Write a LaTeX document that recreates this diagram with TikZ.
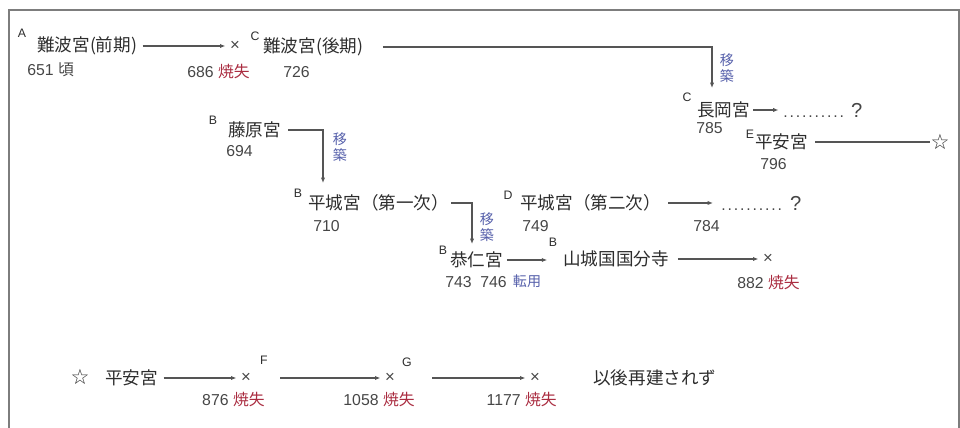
\documentclass[tikz,border=0pt]{standalone}
\usepackage{fontspec}
\setmainfont{Liberation Sans}
\newfontfamily\jp{Noto Sans CJK JP}
\newfontfamily\sym{DejaVu Sans}
\usetikzlibrary{arrows.meta}

\definecolor{txtgray}{RGB}{45,45,45}
\definecolor{numgray}{RGB}{70,70,70}
\definecolor{lostred}{RGB}{170,45,65}
\definecolor{moveblue}{RGB}{85,95,170}
\definecolor{linegray}{RGB}{85,85,85}
\definecolor{framegray}{RGB}{125,125,125}

% dotted run ending in a question mark
\newcommand{\dotsq}[1]{\hbox to #1{\leaders\hbox to 0.125cm{\hss.\hss}\hfill\kern1pt{\fontsize{11.5}{12}\selectfont ?}}}
\newcommand{\burnt}[1]{#1 \textcolor{lostred}{\jp 焼失}}

\tikzset{
  pal/.style={text=txtgray, font=\jp\fontsize{10}{11}\selectfont, inner sep=0pt, anchor=west},
  yr/.style={text=numgray, font=\fontsize{9}{10}\selectfont, inner sep=0pt, anchor=west},
  ltr/.style={text=txtgray, font=\fontsize{7}{8}\selectfont, inner sep=0pt},
  lost/.style={text=numgray, font=\fontsize{9}{10}\selectfont, inner sep=0pt, anchor=east},
  move/.style={text=moveblue, font=\jp\fontsize{8}{9.5}\selectfont, inner sep=0pt, align=center},
  cross/.style={text=numgray, font=\fontsize{9.5}{10}\selectfont, inner sep=0.5pt},
  star/.style={text=txtgray, font=\sym\fontsize{12}{13}\selectfont, inner sep=0pt},
  ln/.style={draw=linegray, line width=0.6pt},
  arr/.style={ln, -{Latex[length=3pt,width=2.4pt]}},
}

\begin{document}
\begin{tikzpicture}[x=0.02cm, y=-0.02cm]
\useasboundingbox (0,0) rectangle (960,428);
\draw[framegray, line width=1pt] (9,428) -- (9,10) -- (959,10) -- (959,428);

% Naniwa
\node[ltr] (lA) at (22,33) {A};
\node[pal] (naniwaF) at (37,46) {難波宮(前期)};
\node[yr]  (yNaniwaF) at (27,70) {651 {\jp 頃}};
\node[cross] (xNaniwa) at (235,46) {×};
\node[lost] (bNaniwa) at (250,72) {\burnt{686}};
\node[ltr] (lC1) at (255,36) {C};
\node[pal] (naniwaL) at (263,47) {難波宮(後期)};
\node[yr]  (yNaniwaL) at (283,72) {726};
\draw[arr, shorten >=2pt, shorten <=3pt] (naniwaF.east) -- (xNaniwa.west);

% Nagaoka / Heian
\coordinate (kNagaoka) at (712,88);
\draw[arr, shorten <=11pt] (naniwaL.east) -| (kNagaoka);
\node[move] (mvNagaoka) at (727,68) {移\\築};
\node[ltr] (lC2) at (687,97) {C};
\node[pal] (nagaoka) at (697,110) {長岡宮};
\node[yr]  (yNagaoka) at (696,128) {785};
\node[yr]  (qNagaoka) at (782,110) {\dotsq{1.6cm}};
\draw[arr, shorten <=1.5pt, shorten >=2pt] (nagaoka.east) -- (nagaoka.east -| qNagaoka.west);
\node[ltr] (lE) at (750,134) {E};
\node[pal] (heian) at (755,142) {平安宮};
\node[yr]  (yHeian) at (760,164) {796};
\node[star] (stHeian) at (940,142) {☆};
\draw[ln, shorten <=4pt] (heian.east) -- (stHeian.west);

% Fujiwara / Heijo
\node[ltr] (lB1) at (213,120) {B};
\node[pal] (fuji) at (228,130) {藤原宮};
\node[yr]  (yFuji) at (226,151) {694};
\coordinate (kHeijo) at (323,183);
\draw[arr, shorten <=4pt] (fuji.east) -| (kHeijo);
\node[move] (mvHeijo) at (340,147) {移\\築};
\node[ltr] (lB2) at (298,193) {B};
\node[pal] (heijoA) at (308,203) {平城宮（第一次）};
\node[yr]  (yHeijoA) at (313,226) {710};
\coordinate (kKuni) at (472,244);
\draw[arr, shorten <=1pt] (heijoA.east) -| (kKuni);
\node[move] (mvKuni) at (487,227) {移\\築};
\node[ltr] (lD) at (508,195) {D};
\node[pal] (heijoB) at (520,203) {平城宮（第二次）};
\node[yr]  (yHeijoB) at (522,226) {749};
\node[yr]  (yHeijoE) at (693,226) {784};
\node[yr]  (qHeijo) at (720,203) {\dotsq{1.62cm}};
\draw[arr, shorten <=4pt, shorten >=4pt] (heijoB.east) -- (heijoB.east -| qHeijo.west);

% Kuni / Kokubunji
\node[ltr] (lB3) at (443,250) {B};
\node[pal] (kuni) at (450,260) {恭仁宮};
\node[yr]  (yKuniA) at (445,282) {743};
\node[yr]  (yKuniB) at (480,282) {746};
\node[move] (mvKokubun) at (527,281) {転用};
\node[ltr] (lB4) at (553,242) {B};
\node[pal] (kokubun) at (563,259) {山城国国分寺};
\draw[arr, shorten <=2pt, shorten >=9pt] (kuni.east) -- (kuni.east -| kokubun.west);
\node[cross] (xKokubun) at (768,259) {×};
\node[lost] (bKokubun) at (800,283) {\burnt{882}};
\draw[arr, shorten <=5pt, shorten >=2pt] (kokubun.east) -- (xKokubun.west);

% Heian after
\node[star] (stHeianB) at (80,377) {☆};
\node[pal] (heianB) at (105,378) {平安宮};
\node[cross] (xHeianA) at (246,378) {×};
\node[lost] (bHeianA) at (265,400) {\burnt{876}};
\draw[arr, shorten <=3pt, shorten >=2pt] (heianB.east) -- (xHeianA.west);
\node[ltr] (lF) at (264,360) {F};
\coordinate (sF) at (280,378);
\node[cross] (xHeianB) at (390,378) {×};
\node[lost] (bHeianB) at (415,400) {\burnt{1058}};
\draw[arr, shorten >=2pt] (sF) -- (xHeianB.west);
\node[ltr] (lG) at (407,362) {G};
\coordinate (sG) at (432,378);
\node[cross] (xHeianC) at (535,378) {×};
\node[lost] (bHeianC) at (557,400) {\burnt{1177}};
\draw[arr, shorten >=2pt] (sG) -- (xHeianC.west);
\node[pal] (noRebuild) at (593,378) {以後再建されず};
\end{tikzpicture}
\end{document}
